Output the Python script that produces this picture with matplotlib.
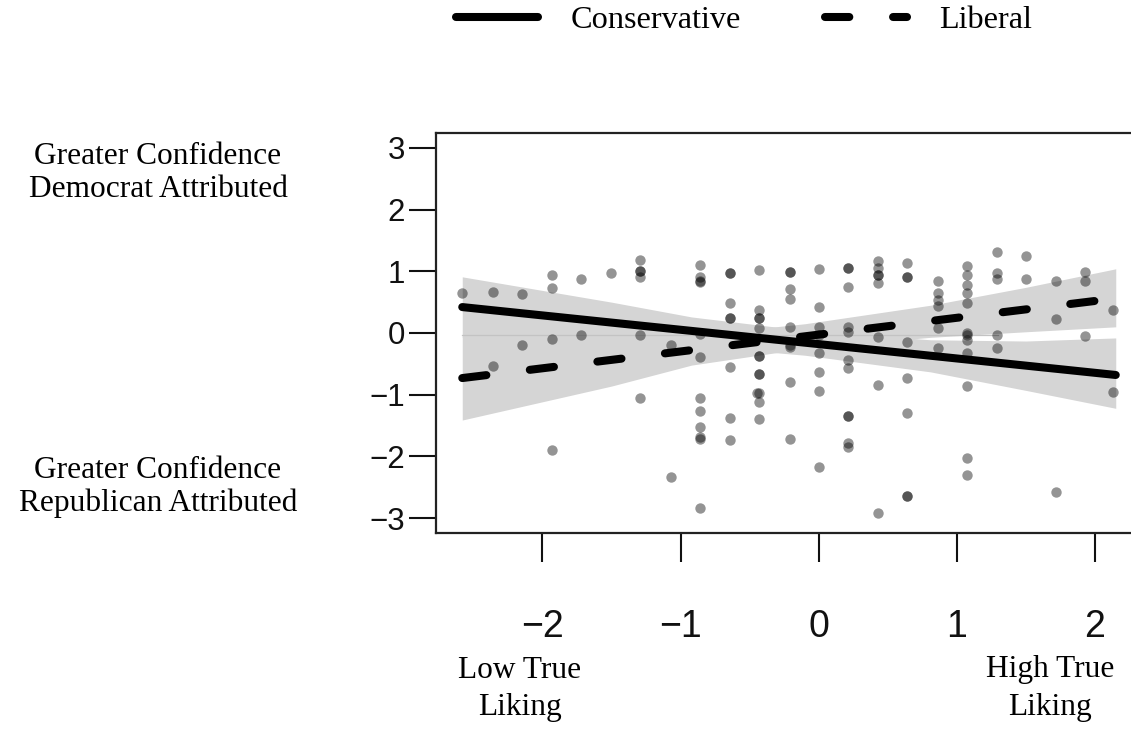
import matplotlib
matplotlib.use('Agg')
import matplotlib.pyplot as plt
import numpy as np

plt.rcParams['lines.scale_dashes'] = False

# ---------------- data ----------------
pt_x = [-2.58, -2.36, -2.15, -1.93, -1.93, -1.72, -1.50, -1.29, -1.29, -1.29, -1.29,
        -0.86, -0.86, -0.86, -0.86, -0.64, -0.64, -0.43, -0.64, -0.64, -0.64,
        -0.43, -0.43, -0.43, -0.43, -1.93, -1.72, -1.29, -0.86,
        -2.15, -2.36, -1.29, -0.86, -1.07, -0.86, -0.86, -0.86, -0.86, -0.86,
        -0.64, -0.64, -0.64, -0.43, -0.43, -0.43, -0.43, -0.45, -0.43, -0.43, -0.43,
        -1.93, -1.07, -0.86,
        -0.21, -0.21, -0.21, -0.21, 0.00, 0.00, 0.21, 0.21, 0.21,
        0.43, 0.43, 0.43, 0.43, 0.43, 0.64, 0.64, 0.64,
        0.86, 0.86, 0.86, 0.86, 0.86, 1.07, 1.07, 1.07, 1.07, 1.07, 1.07,
        1.29, 1.29, 1.29, 1.29, 1.50, 1.50, 1.72, 1.72, 1.93, 1.93, 2.13, 1.93,
        -0.21, -0.21, -0.21, 0.00, 0.00, 0.00, 0.00, 0.21, 0.21, 0.21, 0.21,
        0.21, 0.21, 0.43, 0.43, 0.43, 0.64, 0.64, 0.64, 0.64, 0.64,
        0.86, 1.07, 1.07, 1.07, 1.07, 1.07, 1.07, 1.29, 1.72, 2.13,
        -0.21, -0.21, 0.00, 0.00, 0.21, 0.21]
pt_y = [0.64, 0.67, 0.63, 0.94, 0.73, 0.87, 0.97, 1.18, 1.00, 1.00, 0.90,
        1.10, 0.91, 0.85, 0.82, 0.97, 0.97, 1.02, 0.49, 0.24, 0.24,
        0.38, 0.24, 0.24, 0.08, -0.09, -0.03, -0.03, -0.02,
        -0.19, -0.53, -1.06, -0.39, -0.19, -1.05, -1.26, -1.53, -1.68, -1.71,
        -0.55, -1.38, -1.73, -0.37, -0.37, -0.66, -0.66, -0.97, -0.97, -1.11, -1.39,
        -1.89, -2.33, -2.84,
        0.99, 0.99, 0.72, 0.55, 1.04, 0.42, 1.05, 1.05, 0.75,
        1.16, 1.05, 0.94, 0.94, 0.81, 1.13, 0.91, 0.91,
        0.84, 0.64, 0.53, 0.43, 0.08, 1.09, 0.94, 0.78, 0.64, 0.48, 0.00,
        1.32, 0.97, 0.87, -0.03, 1.24, 0.87, 0.85, 0.22, 0.99, 0.85, 0.37, -0.05,
        -0.19, -0.80, -1.71, -0.32, -0.63, -0.94, -2.17, -0.44, -0.57, -1.35, -1.35,
        -1.79, -1.85, -0.06, -0.85, -2.92, -0.14, -0.73, -1.30, -2.64, -2.64,
        -0.25, -0.03, -0.11, -0.32, -0.86, -2.03, -2.30, -0.25, -2.57, -0.95,
        0.10, -0.22, 0.10, -0.03, 0.10, 0.02]

line_x = [-2.58, 2.15]
cons_y = [0.42, -0.68]
lib_y = [-0.73, 0.56]

band_x = [-2.58, -1.50, -0.92, -0.10, 0.81, 1.50, 2.15]
cons_hi = [0.91, 0.50, 0.26, 0.04, -0.11, -0.13, -0.08]
cons_lo = [-0.07, -0.16, -0.20, -0.36, -0.63, -0.93, -1.22]
lib_hi = [-0.05, -0.02, -0.04, 0.15, 0.45, 0.74, 1.04]
lib_lo = [-1.41, -0.86, -0.52, -0.25, -0.07, 0.02, 0.10]

ref_x = [-2.58, 1.30]
ref_y = [-0.03, -0.03]

x_ticks = [-2, -1, 0, 1, 2]
y_ticks = [-3, -2, -1, 0, 1, 2, 3]
series_labels = ['Conservative', 'Liberal']

# ---------------- figure ----------------
W, H = 1131, 734
fig = plt.figure(figsize=(W / 100, H / 100), dpi=100)
ax = fig.add_axes([436 / W, (H - 533) / H, (1142 - 436) / W, 400 / H])
ax.set_xlim(-2.77, 2.34)
ax.set_ylim(-3.24, 3.24)

ax.fill_between(band_x, cons_lo, cons_hi, color='#d5d5d5', lw=0, zorder=1)
ax.fill_between(band_x, lib_lo, lib_hi, color='#d5d5d5', lw=0, zorder=1)
ax.plot(ref_x, ref_y, color='#c3c3c3', lw=0.9, zorder=1.5)

ax.scatter(pt_x, pt_y, s=56, color='black', alpha=0.42, linewidths=0, zorder=2)

l1, = ax.plot(line_x, cons_y, color='black', lw=5.8, solid_capstyle='round',
              zorder=3, label=series_labels[0])
l2, = ax.plot(line_x, lib_y, color='black', lw=5.8, dash_capstyle='round',
              dashes=(17.5, 31.5), zorder=3, label=series_labels[1])

ax.set_xticks(x_ticks)
ax.set_yticks(y_ticks)
tick_font = 'Liberation Sans'
ax.tick_params(axis='y', length=19.5, width=1.5, pad=3, labelsize=22.5,
               direction='out', colors='#111111')
ax.tick_params(axis='x', length=21, width=1.5, pad=34, labelsize=27,
               direction='out', colors='#111111')
for lab in ax.get_xticklabels() + ax.get_yticklabels():
    lab.set_fontfamily(tick_font)

for side in ['left', 'top', 'bottom']:
    ax.spines[side].set_linewidth(1.6)
    ax.spines[side].set_color('#222222')
ax.spines['right'].set_visible(False)

serif = 'Liberation Serif'
fs = 22.6
def ftext(px, py, s):
    fig.text(px / W, 1 - py / H, s, ha='center', va='center',
             fontsize=fs, family=serif)

ftext(158, 157, 'Greater Confidence')
ftext(158, 189, 'Democrat Attributed')
ftext(158, 471, 'Greater Confidence')
ftext(158, 503, 'Republican Attributed')
ftext(520, 670, 'Low True')
ftext(520, 707, 'Liking')
ftext(1050, 670, 'High True')
ftext(1050, 707, 'Liking')

fig.legend(handles=[l1, l2], labels=series_labels, loc='center',
           bbox_to_anchor=(744 / W, 1 - 20 / H), ncol=2, frameon=False,
           prop={'family': serif, 'size': 23.2}, handlelength=2.55,
           handletextpad=1.0, columnspacing=2.6, borderpad=0, borderaxespad=0)

fig.savefig('out.png', dpi=100)
